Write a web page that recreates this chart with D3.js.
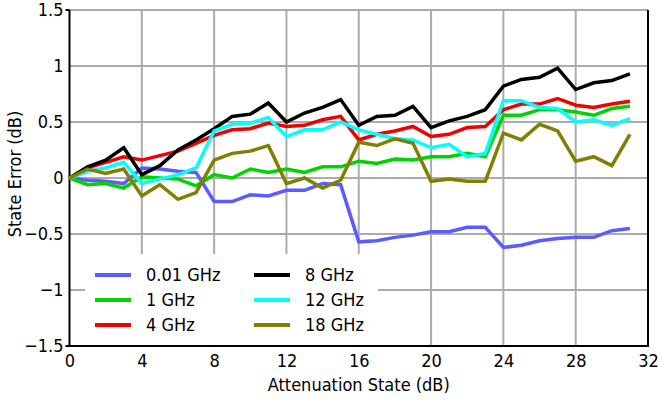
<!DOCTYPE html>
<html>
<head>
<meta charset="utf-8">
<script src="https://cdn.jsdelivr.net/npm/d3@7"></script>
<style>
  html, body { margin: 0; padding: 0; background: #fff; }
  svg text { font-family: "DejaVu Sans Condensed", "DejaVu Sans", sans-serif; font-stretch: condensed; fill: #000; }
</style>
</head>
<body>
<svg id="chart" width="664" height="403"></svg>
<script>
// Attenuation states (dB)
const states = d3.range(0, 32);

// State error (dB) per frequency
const err001 = [0, -0.02, -0.03, -0.05, 0.09, 0.08, 0.06, 0.05, -0.21, -0.21, -0.15, -0.16, -0.11, -0.11, -0.05, -0.06,
                -0.57, -0.56, -0.53, -0.51, -0.48, -0.48, -0.44, -0.44, -0.62, -0.60, -0.56, -0.54, -0.53, -0.53, -0.47, -0.45];
const err1 = [0, -0.06, -0.05, -0.09, 0.01, 0.0, -0.01, -0.07, 0.03, 0.0, 0.08, 0.05, 0.08, 0.05, 0.10, 0.10,
              0.15, 0.13, 0.17, 0.16, 0.19, 0.19, 0.22, 0.19, 0.56, 0.56, 0.61, 0.61, 0.59, 0.56, 0.62, 0.64];
const err4 = [0, 0.09, 0.14, 0.19, 0.16, 0.20, 0.24, 0.31, 0.38, 0.43, 0.44, 0.49, 0.46, 0.47, 0.52, 0.55,
              0.34, 0.39, 0.42, 0.46, 0.37, 0.39, 0.45, 0.46, 0.61, 0.66, 0.66, 0.71, 0.65, 0.63, 0.66, 0.685];
const err8 = [0, 0.10, 0.16, 0.27, 0.03, 0.11, 0.25, 0.34, 0.44, 0.55, 0.57, 0.67, 0.50, 0.58, 0.63, 0.70,
              0.47, 0.55, 0.56, 0.64, 0.45, 0.51, 0.55, 0.61, 0.82, 0.88, 0.90, 0.98, 0.79, 0.85, 0.87, 0.93];
const err12 = [0, 0.06, 0.09, 0.14, -0.05, -0.01, 0.03, 0.09, 0.42, 0.48, 0.49, 0.54, 0.37, 0.43, 0.43, 0.50,
               0.43, 0.39, 0.35, 0.34, 0.27, 0.30, 0.19, 0.22, 0.69, 0.69, 0.63, 0.62, 0.50, 0.52, 0.47, 0.53];
const err18 = [0, 0.08, 0.04, 0.08, -0.16, -0.06, -0.19, -0.13, 0.16, 0.22, 0.24, 0.29, -0.05, 0.0, -0.09, -0.02,
               0.32, 0.29, 0.35, 0.31, -0.03, -0.01, -0.03, -0.03, 0.40, 0.34, 0.48, 0.42, 0.15, 0.19, 0.11, 0.39];

const seriesNames = ["0.01 GHz", "1 GHz", "4 GHz", "8 GHz", "12 GHz", "18 GHz"];
const seriesValues = [err001, err1, err4, err8, err12, err18];
const seriesColors = ["#5b5bff", "#00d400", "#f00000", "#000000", "#00ffff", "#808000"];

const xTicks = [0, 4, 8, 12, 16, 20, 24, 28, 32];
const yTicks = [-1.5, -1, -0.5, 0, 0.5, 1, 1.5];

const svg = d3.select("#chart");
const plotLeft = 69.5, plotRight = 648, plotTop = 10, plotBottom = 346;
const fontSize = 18;

const x = d3.scaleLinear().domain([0, 32]).range([plotLeft, plotRight]);
const y = d3.scaleLinear().domain([-1.5, 1.5]).range([plotBottom, plotTop]);

// grid
const grid = svg.append("g").attr("stroke", "#ababab").attr("stroke-width", 2);
grid.selectAll("line.v").data(xTicks.slice(1, -1)).join("line")
  .attr("x1", d => x(d)).attr("x2", d => x(d)).attr("y1", plotTop).attr("y2", plotBottom);
grid.selectAll("line.h").data(yTicks.slice(1)).join("line")
  .attr("x1", plotLeft).attr("x2", plotRight).attr("y1", d => y(d)).attr("y2", d => y(d));

// axes
const yAxis = d3.axisLeft(y).tickValues(yTicks).tickSize(0).tickPadding(6)
  .tickFormat(d => d3.format("")(d));
const xAxis = d3.axisBottom(x).tickValues(xTicks).tickSize(0).tickPadding(5);

const gy = svg.append("g").attr("transform", `translate(${plotLeft},0)`).call(yAxis);
const gx = svg.append("g").attr("transform", `translate(0,${plotBottom})`).call(xAxis);
[gx, gy].forEach(g => {
  g.select(".domain").remove();
  g.attr("font-family", null).attr("font-size", null);
  g.selectAll("text").attr("font-size", fontSize);
});
gx.selectAll("text").attr("dy", "0.9em");

// frame: left, bottom, right
svg.append("path")
  .attr("d", `M${plotLeft},${plotTop}V${plotBottom}H${plotRight}V${plotTop}`)
  .attr("fill", "none").attr("stroke", "#000").attr("stroke-width", 2);
svg.append("line").attr("x1", plotLeft - 4).attr("x2", plotLeft).attr("y1", plotTop).attr("y2", plotTop)
  .attr("stroke", "#000").attr("stroke-width", 2);
svg.append("line").attr("x1", plotLeft - 4).attr("x2", plotLeft).attr("y1", plotBottom).attr("y2", plotBottom)
  .attr("stroke", "#000").attr("stroke-width", 2);

// legend background
svg.append("rect").attr("x", 85).attr("y", 254).attr("width", 293).attr("height", plotBottom - 1 - 254)
  .attr("fill", "#fff");

// series lines
const line = d3.line().x((d, i) => x(states[i])).y(d => y(d));
svg.append("g").selectAll("path").data(seriesValues).join("path")
  .attr("d", d => line(d))
  .attr("fill", "none")
  .attr("stroke", (d, i) => seriesColors[i])
  .attr("stroke-width", 3.5)
  .attr("stroke-linejoin", "miter");

// legend
const legend = svg.append("g");
const items = legend.selectAll("g").data(seriesNames).join("g")
  .attr("transform", (d, i) => `translate(${i < 3 ? 95 : 254},${275 + (i % 3) * 25})`);
items.append("line").attr("x1", 0).attr("x2", 36).attr("y1", 0).attr("y2", 0)
  .attr("stroke", (d, i) => seriesColors[i]).attr("stroke-width", 4);
items.append("text").attr("x", 51).attr("y", 0).attr("dy", "0.36em")
  .attr("font-size", fontSize).text(d => d);

// axis titles
svg.append("text").attr("x", (plotLeft + plotRight) / 2).attr("y", 391)
  .attr("text-anchor", "middle").attr("font-size", fontSize).text("Attenuation State (dB)");
svg.append("text").attr("transform", `translate(21,${(plotTop + plotBottom) / 2 - 4}) rotate(-90)`)
  .attr("text-anchor", "middle").attr("font-size", fontSize).text("State Error (dB)");
</script>
</body>
</html>
